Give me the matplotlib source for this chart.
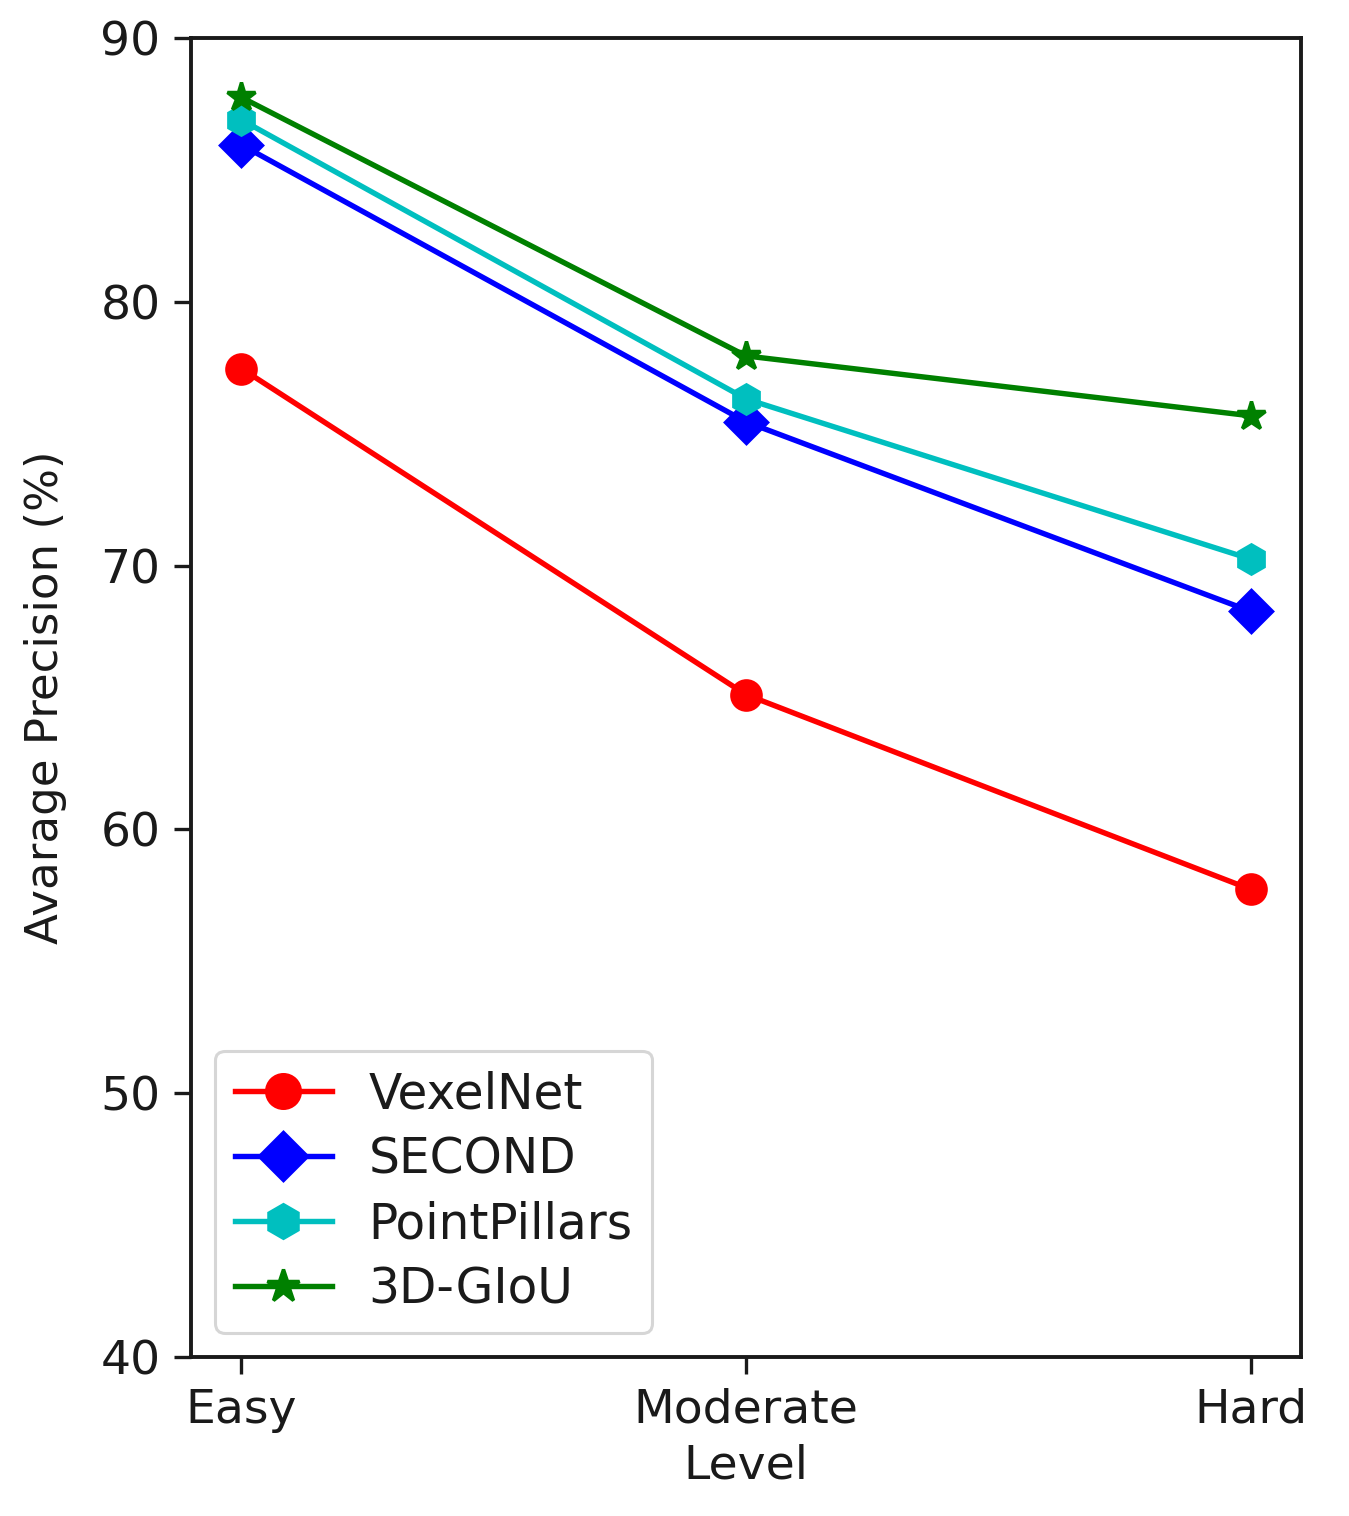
import matplotlib
matplotlib.use("Agg")
import matplotlib.pyplot as plt

levels = ["Easy", "Moderate", "Hard"]
vexelnet = [77.47, 65.11, 57.73]
second = [85.95, 75.45, 68.27]
pointpillars = [86.9, 76.32, 70.25]
giou3d = [87.75, 77.95, 75.68]
yticks = [40, 50, 60, 70, 80, 90]

plt.rcParams['font.family'] = ['DejaVu Sans']
fig = plt.figure(figsize=(13.49, 15.16), dpi=100)
ax = fig.add_axes([0.1416, 0.1049, 0.8228, 0.8700])

x = list(range(len(levels)))
lw = 3.9
ms = 21
mew = 2.5
ax.plot(x, vexelnet, color='red', marker='o', lw=lw, ms=ms, mew=mew, label='VexelNet')
ax.plot(x, second, color='blue', marker='D', lw=lw, ms=ms, mew=mew, label='SECOND')
ax.plot(x, pointpillars, color='c', marker='h', lw=lw, ms=ms, mew=mew, label='PointPillars')
ax.plot(x, giou3d, color='green', marker='*', lw=lw, ms=ms, mew=mew, label='3D-GIoU')

ax.set_xlim(-0.1, 2.1)
ax.set_ylim(40, 90)
ax.set_xticks(x)
ax.set_xticklabels(levels)
ax.set_yticks(yticks)
ax.tick_params(labelsize=34, width=2.4, length=12, pad=10, colors='#1a1a1a')
for s in ax.spines.values():
    s.set_linewidth(2.8)
    s.set_color('#1a1a1a')
ax.set_xlabel('Level', fontsize=34, labelpad=8, color='#1a1a1a')
ax.set_ylabel('Avarage Precision (%)', fontsize=32.5, labelpad=24, color='#1a1a1a')

leg = ax.legend(loc='lower left', fontsize=35, borderaxespad=0.5,
                handlelength=2.0, labelspacing=0.35, borderpad=0.4,
                handletextpad=0.75, framealpha=0.8, markerscale=1.15)
leg.get_frame().set_linewidth(2.2)
for t in leg.get_texts():
    t.set_color('#1a1a1a')

fig.savefig('out.png', dpi=100)
